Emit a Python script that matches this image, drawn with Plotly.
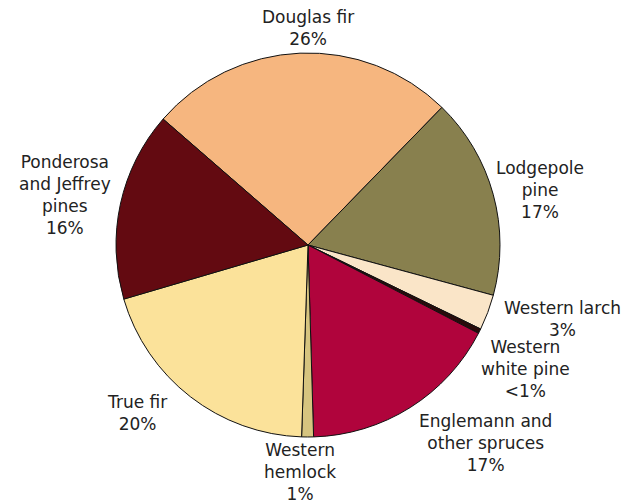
import plotly.graph_objects as go

species = ["Douglas fir", "Lodgepole pine", "Western larch", "Western white pine",
           "Englemann and other spruces", "Western hemlock", "True fir",
           "Ponderosa and Jeffrey pines"]
shares = [26, 17, 3, 0.4, 17, 1, 20, 16]
colors = ["#F6B67F", "#88804E", "#FAE5C8", "#2A0B0B", "#B0043C", "#D6C47F", "#FBE29A", "#630A11"]

label_text = ["Douglas fir<br>26%", "Lodgepole<br>pine<br>17%", "Western larch<br>3%",
              "Western<br>white pine<br>&lt;1%", "Englemann and<br>other spruces<br>17%",
              "Western<br>hemlock<br>1%", "True fir<br>20%",
              "Ponderosa<br>and Jeffrey<br>pines<br>16%"]
# label centres in pixels of the reference picture
label_px = [(308, 28), (540, 190), (562, 319), (525, 369), (485, 443),
            (300, 472), (137, 413), (65, 195)]

W, H = 639, 504
off = 8  # the page body adds an 8px margin
cx, cy, r = 308 - off, 245 - off, 192

fig = go.Figure(go.Pie(
    labels=species,
    values=shares,
    sort=False,
    direction="clockwise",
    rotation=-49,
    marker=dict(colors=colors, line=dict(color="#111111", width=1)),
    textinfo="none",
    hoverinfo="label+percent",
    domain=dict(x=[(cx - r) / W, (cx + r) / W], y=[1 - (cy + r) / H, 1 - (cy - r) / H]),
    showlegend=False,
))

for txt, (px, py) in zip(label_text, label_px):
    fig.add_annotation(
        text=txt, x=(px - off) / W, y=1 - (py - off) / H, xref="paper", yref="paper",
        xanchor="center", yanchor="middle", showarrow=False,
        font=dict(size=17, color="#222222", family="DejaVu Sans, sans-serif"),
    )

fig.update_layout(
    width=W, height=H,
    margin=dict(l=0, r=0, t=0, b=0),
    paper_bgcolor="white",
    plot_bgcolor="white",
)

fig.write_html("out.html")
